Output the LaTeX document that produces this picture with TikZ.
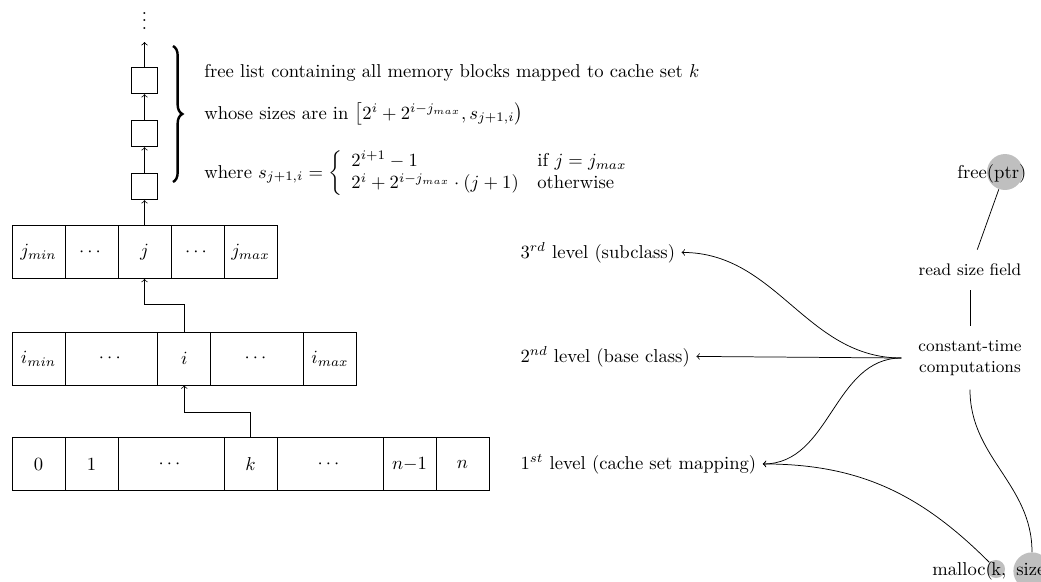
\documentclass[tikz,border=0pt]{standalone}
\usepackage{amsmath}
\usetikzlibrary{decorations.pathreplacing}
\begin{document}
\begin{tikzpicture}[x=0.53684pt,y=-0.53684pt,
  cell/.style={draw,minimum height=1cm,minimum width=1cm,inner sep=0pt},
  flbox/.style={draw,minimum size=0.5cm,inner sep=0pt},
  txt/.style={inner sep=0pt},
  lvl/.style={anchor=base west},
  stepnode/.style={font=\small,align=center,inner xsep=9pt,inner ysep=7.5pt},
  hl/.style={circle,fill=gray!50,inner sep=0pt},
  bigbrace/.style={decorate,decoration={brace,amplitude=5pt},line width=1.3pt}]
\useasboundingbox (0,0) rectangle (1041,581);

% cache set row
\node[cell] (c0) at (38.5,464) {$0$};
\node[cell] (c1) at (91.5,464) {$1$};
\node[cell,minimum width=2cm] (cd1) at (171,464) {$\cdots$};
\node[cell] (ck) at (250.5,464) {$k$};
\node[cell,minimum width=2cm] (cd2) at (330,464) {$\cdots$};
\node[cell] (cn1) at (409.5,464) {$n{-}1$};
\node[cell] (cn) at (462.5,464) {$n$};

% base class row
\node[cell] (imin) at (38.5,358.5) {$i_{min}$};
\node[cell,minimum width=1.75cm] (id1) at (111.4,358.5) {$\cdots$};
\node[cell] (ci) at (184.25,358.5) {$i$};
\node[cell,minimum width=1.75cm] (id2) at (257.1,358.5) {$\cdots$};
\node[cell] (imax) at (330,358.5) {$i_{max}$};

% subclass row
\node[cell] (jmin) at (38.5,252) {$j_{min}$};
\node[cell] (jd1) at (91.5,252) {$\cdots$};
\node[cell] (cj) at (144.5,252) {$j$};
\node[cell] (jd2) at (197.5,252) {$\cdots$};
\node[cell] (jmax) at (250.5,252) {$j_{max}$};

% free list
\node[flbox] (b1) at (144.5,186.5) {};
\node[flbox] (b2) at (144.5,133.5) {};
\node[flbox] (b3) at (144.5,80.5) {};
\coordinate (fltop) at (144.5,42);
\node[txt] (vd) at (144.5,15) {$\vdots$};

\coordinate (brtop) at (173,46);
\coordinate (brbot) at (173,182);
\draw[bigbrace] (brtop) -- (brbot);

\node[txt,anchor=base west] (t1) at (204,77) {free list containing all memory blocks mapped to cache set $k$};
\node[txt,anchor=base west] (t2) at (204,119) {whose sizes are in $\bigl[2^i+2^{i-j_{max}}, s_{j+1,i}\bigr)$};
\node[txt,anchor=base west] (t3) at (204,178) {where $s_{j+1,i}=\left\{\begin{array}{ll} 2^{i+1}-1 & \text{if } j=j_{max}\\ 2^i+2^{i-j_{max}}\cdot(j+1) & \text{otherwise}\end{array}\right.$};

% levels
\node[lvl] (L3) at (514,258) {$3^{rd}$ level (subclass)};
\node[lvl] (L2) at (514,362) {$2^{nd}$ level (base class)};
\node[lvl] (L1) at (514,469) {$1^{st}$ level (cache set mapping)};

% right column
\node[stepnode] (read) at (970,270) {read size field};
\node[stepnode] (comp) at (970,358) {constant-time\\computations};

\node[hl,minimum size=19.3pt] (ptr) at (1005,172) {};
\node[hl,minimum size=9.7pt] (kk) at (996,569) {};
\node[hl,minimum size=20pt] (sz) at (1032,571) {};

\node[txt,anchor=base west] (freet) at (957,178) {free(ptr)};
\node[txt,anchor=base west] (malt) at (932,575) {malloc(};
\node[txt,anchor=base west] (kt) at (991,575) {k,};
\node[txt,anchor=base west] (szt) at (1016,575) {size)};

% connectors
\draw[->] (ck.north) -- ++(0,-25) -| (ci.south);
\draw[->] (ci.north) -- ++(0,-27) -| (cj.south);
\draw[->] (cj.north) -- (b1.south);
\draw[->] (b1.north) -- (b2.south);
\draw[->] (b2.north) -- (b3.south);
\draw[->] (b3.north) -- (fltop);

\draw[->] (comp.west) to[out=180,in=0] (L3.east);
\draw[->] (comp.west) -- (L2.east);
\draw[->] (comp.west) to[out=180,in=0] (L1.east);
\draw[->] (kk) to[out=135,in=0] (L1.east);
\draw (ptr) -- (read);
\draw (read) -- (comp);
\draw (comp.south) to[out=-90,in=90] (sz);
\end{tikzpicture}
\end{document}
